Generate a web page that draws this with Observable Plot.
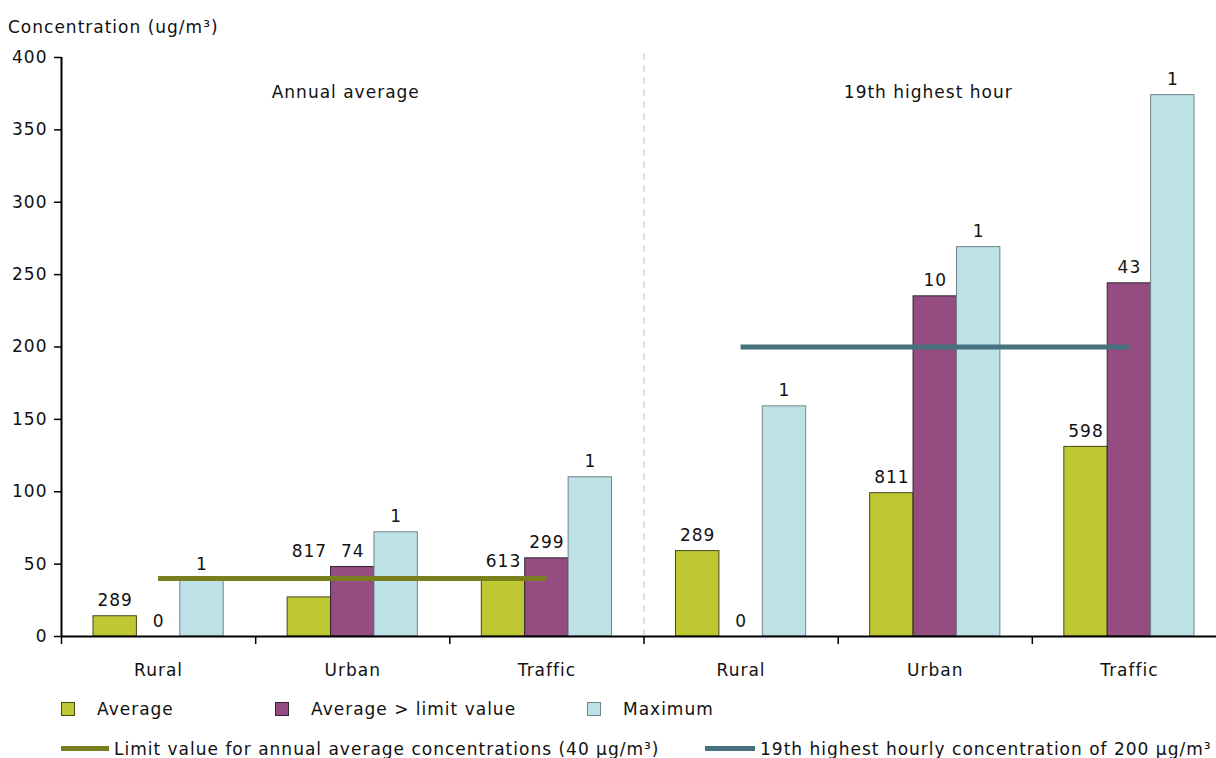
<!DOCTYPE html>
<html>
<head>
<meta charset="utf-8">
<script src="https://cdn.jsdelivr.net/npm/d3@7"></script>
<script src="https://cdn.jsdelivr.net/npm/@observablehq/plot@0.6"></script>
<style>
  body { margin: 0; background: #fff; font-family: "DejaVu Sans", Verdana, sans-serif; color: #111; }
  #wrap { position: relative; width: 1216px; height: 758px; overflow: hidden; }
  #title { position: absolute; left: 8px; top: 17px; font-size: 17px; letter-spacing: 1px; }
  #chart { position: absolute; left: 0; top: 0; }
  .lg { position: absolute; font-size: 17px; line-height: 20px; white-space: nowrap; letter-spacing: 1px; }
  .sw { position: absolute; width: 14px; height: 14px; box-sizing: border-box; }
  .ln { position: absolute; height: 5px; }
</style>
</head>
<body>
<div id="wrap">
  <div id="chart"></div>
  <div id="title">Concentration (ug/m³)</div>
  <div id="legend"></div>
</div>
<script>
// ---- data ----
const panels = ["Annual average", "19th highest hour"];
const sites = ["Rural", "Urban", "Traffic"];
const series = ["Average", "Average > limit value", "Maximum"];
// values per category, order: Annual (Rural, Urban, Traffic), Hour (Rural, Urban, Traffic)
const averageValues    = [14, 27, 41, 59, 99, 131];
const aboveLimitValues = [0, 48, 54, 0, 235, 244];
const maximumValues    = [39, 72, 110, 159, 269, 374];
// number of stations shown above bars
const averageCounts    = [289, 817, 613, 289, 811, 598];
const aboveLimitCounts = [0, 74, 299, 0, 10, 43];
const maximumCounts    = [1, 1, 1, 1, 1, 1];
// level at which the "Average" station counts are shown (one is lifted above the limit line)
const averageLabelLevels = [14, 48, 41, 59, 99, 131];
const limitValues = [40, 200];
const limitLabels = ["Limit value for annual average concentrations (40 µg/m³)", "19th highest hourly concentration of 200 µg/m³"];
const yTicks = [0, 50, 100, 150, 200, 250, 300, 350, 400];

// ---- styles ----
const fills = ["#bfc832", "#954c80", "#bee1e8"];
const strokes = ["#45461c", "#2e2530", "#6f8489"];
const limitColors = ["#7a7f1e", "#46717f"];
const FS = 17;

// ---- build table ----
const valueSets = [averageValues, aboveLimitValues, maximumValues];
const countSets = [averageCounts, aboveLimitCounts, maximumCounts];
const labelSets = [averageLabelLevels, aboveLimitValues, maximumValues];
const nCat = panels.length * sites.length;
const bw = 0.2235; // bar width as a fraction of a category step
const rows = [];
for (let i = 0; i < nCat; i++) {
  for (let s = 0; s < series.length; s++) {
    const x1 = i - 1.5 * bw + s * bw;
    rows.push({cat: i, s, series: series[s], x1, x2: x1 + bw, xm: x1 + bw / 2,
               value: valueSets[s][i], count: countSets[s][i], labelAt: labelSets[s][i]});
  }
}
const limits = limitValues.map((v, p) => ({value: v, from: p * sites.length, to: p * sites.length + sites.length - 1, color: limitColors[p]}));
const panelTitles = panels.map((t, p) => ({title: t, x: p * sites.length + (sites.length - 1) / 2}));
const catCenters = d3.range(nCat);
const boundaries = d3.range(nCat + 1).map(i => i - 0.5);

const plot = Plot.plot({
  width: 1216,
  height: 680,
  marginLeft: 61,
  marginRight: -10,
  marginTop: 57,
  marginBottom: 44,
  style: {fontFamily: '"DejaVu Sans", Verdana, sans-serif', fontSize: FS + "px", color: "#111", overflow: "visible", letterSpacing: "1px"},
  x: {domain: [-0.5, nCat - 0.5]},
  y: {domain: [0, 400]},
  marks: [
    // separator between panels
    Plot.ruleX([sites.length - 0.5], {y1: 0, y2: 403, stroke: "#d9d9d9", strokeWidth: 1.5, strokeDasharray: "7,5"}),
    Plot.rectY(rows.filter(d => d.value > 0), {
      x1: "x1", x2: "x2", y1: 0, y2: "value",
      fill: d => fills[d.s], stroke: d => strokes[d.s], strokeWidth: 1
    }),
    Plot.text(rows, {x: "xm", y: "labelAt", text: d => String(d.count), lineAnchor: "bottom", dy: -10, fontSize: FS, fill: "#111"}),
    Plot.ruleY(limits, {y: "value", x1: "from", x2: "to", stroke: "color", strokeWidth: 5}),
    Plot.text(panelTitles, {x: "x", y: 376, text: "title", dx: -7, fontSize: FS, fill: "#111"}),
    // axes
    Plot.axisY({ticks: yTicks, tickSize: 7, tickPadding: 7, label: null, fontSize: FS, stroke: "#000", strokeWidth: 1.5}),
    Plot.axisX({ticks: catCenters, tickSize: 0, tickPadding: 27, tickFormat: i => sites[i % sites.length], label: null, fontSize: FS}),
    Plot.axisX({ticks: boundaries, tickSize: 8, tickFormat: () => "", label: null, stroke: "#000", strokeWidth: 1.5}),
    Plot.ruleY([0], {stroke: "#000", strokeWidth: 2}),
    Plot.ruleX([-0.5], {y1: 0, y2: 400, stroke: "#000", strokeWidth: 2})
  ]
});
document.getElementById("chart").appendChild(plot);

// ---- legend ----
const legend = document.getElementById("legend");
const swLeft = [61, 275, 587];
series.forEach((name, s) => {
  const sw = document.createElement("div");
  sw.className = "sw";
  sw.style.left = swLeft[s] + "px";
  sw.style.top = "702px";
  sw.style.background = fills[s];
  sw.style.border = "1px solid " + strokes[s];
  legend.appendChild(sw);
  const t = document.createElement("div");
  t.className = "lg";
  t.style.left = (swLeft[s] + 36) + "px";
  t.style.top = "699px";
  t.textContent = name;
  legend.appendChild(t);
});
const lnLeft = [61, 705];
const lnWidth = [48, 50];
limitLabels.forEach((name, p) => {
  const ln = document.createElement("div");
  ln.className = "ln";
  ln.style.left = lnLeft[p] + "px";
  ln.style.top = "746px";
  ln.style.width = lnWidth[p] + "px";
  ln.style.background = limitColors[p];
  legend.appendChild(ln);
  const t = document.createElement("div");
  t.className = "lg";
  t.style.left = (lnLeft[p] + lnWidth[p] + 5) + "px";
  t.style.top = "739px";
  t.textContent = name;
  legend.appendChild(t);
});
</script>
</body>
</html>
